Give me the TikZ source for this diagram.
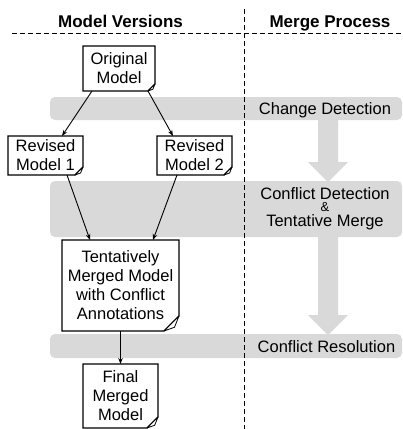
\documentclass[tikz,border=0pt]{standalone}
\usepackage{fontspec}
\setmainfont{Liberation Sans}
\usetikzlibrary{calc,arrows.meta}
\definecolor{bandgray}{RGB}{217,217,217}
\tikzset{
  docbox/.style={inner sep=0pt, outer sep=0pt, align=center, font=\fontsize{16.5}{19}\selectfont},
  bandbox/.style={fill=bandgray, draw=none, rounded corners=5pt, inner sep=0pt, outer sep=0pt},
  lbl/.style={font=\fontsize{16.5}{19}\selectfont, align=center, inner sep=0pt},
  hdr/.style={font=\bfseries\fontsize{17}{19}\selectfont, inner sep=0pt},
  sepline/.style={line width=0.9pt, dash pattern=on 4.5pt off 3.5pt},
  flow/.style={line width=0.9pt, -{Stealth[length=6pt,width=4.5pt]}},
  outline/.style={line width=1.1pt, line join=miter},
  flap/.style={line width=0.8pt, fill=white, line join=round}
}
\newcommand{\docshape}[2]{%
  \draw[outline] (#1.north west) -- (#1.north east) -- ($(#1.south east)+(0pt,#2pt)$)
    .. controls ($(#1.south east)+(-0.5*#2pt,0.5*#2pt)$) .. ($(#1.south east)+(-#2pt,0pt)$)
    -- (#1.south west) -- cycle;
  \draw[flap] ($(#1.south east)+(0pt,#2pt)$) -- ($(#1.south east)+(-0.3*#2pt,0.25*#2pt)$)
    -- ($(#1.south east)+(-#2pt,0pt)$)
    .. controls ($(#1.south east)+(-0.5*#2pt,0.5*#2pt)$) .. cycle;
}
\begin{document}
\begin{tikzpicture}[x=1pt,y=-1pt]
\useasboundingbox (0,0) rectangle (403,429);

% gray bands
\node[bandbox, minimum width=352pt, minimum height=23pt] (band1) at (226,108.5) {};
\node[bandbox, minimum width=352pt, minimum height=56pt] (band2) at (226,209) {};
\node[bandbox, minimum width=352pt, minimum height=24pt] (band3) at (226,346) {};

% big gray arrows
\fill[bandgray] (318,119) -- (338,119) -- (338,162) -- (348,162) -- (328,182) -- (308,162) -- (318,162) -- cycle;
\fill[bandgray] (318,236) -- (338,236) -- (338,315) -- (348,315) -- (328,335) -- (308,315) -- (318,315) -- cycle;

% dashed separators
\coordinate (hl) at (12,33);
\coordinate (hr) at (403,33);
\coordinate (vt) at (244,9);
\coordinate (vb) at (244,429);
\draw[sepline] (hl) -- (hr);
\draw[sepline] (vt) -- (vb);

% headers
\node[hdr, anchor=base] (h1) at (120.5,27) {Model Versions};
\node[hdr, anchor=base] (h2) at (330,27) {Merge Process};

% band labels
\node[lbl, anchor=base] (cd) at (325,114.5) {Change Detection};
\node[lbl, anchor=base] (cdt) at (325,199) {Conflict Detection};
\node[font=\fontsize{13}{13}\selectfont, inner sep=0pt, anchor=base] (amp) at (325,211.5) {\&};
\node[lbl, anchor=base] (tm) at (325,226) {Tentative Merge};
\node[lbl, anchor=base] (cr) at (326.5,352.5) {Conflict Resolution};

% model documents
\node[docbox, minimum width=72pt, minimum height=45pt] (orig) at (119,68.5) {Original\\Model};
\node[docbox, minimum width=75pt, minimum height=39pt] (rev1) at (45.5,155.5) {Revised\\Model 1};
\node[docbox, minimum width=75pt, minimum height=39pt] (rev2) at (194.5,155.5) {Revised\\Model 2};
\node[docbox, minimum width=117pt, minimum height=91pt] (tent) at (120.5,285.5) {Tentatively\\Merged Model\\with Conflict\\Annotations};
\node[docbox, minimum width=75pt, minimum height=64pt] (final) at (120.5,396) {Final\\Merged\\Model};

\docshape{orig}{7}
\docshape{rev1}{8}
\docshape{rev2}{8}
\docshape{tent}{15}
\docshape{final}{11}

% flow arrows
\draw[flow] ($(orig.south west)+(9pt,0pt)$) -- ($(rev1.north)+(16.5pt,0pt)$);
\draw[flow] ($(orig.south east)+(-7pt,0pt)$) -- ($(rev2.north)+(-21.5pt,0pt)$);
\draw[flow] ($(rev1.south east)+(-16pt,0pt)$) -- ($(tent.north west)+(28pt,0pt)$);
\draw[flow] ($(rev2.south west)+(20pt,0pt)$) -- ($(tent.north east)+(-26pt,0pt)$);
\draw[flow] (tent.south) -- (final.north);
\end{tikzpicture}
\end{document}
